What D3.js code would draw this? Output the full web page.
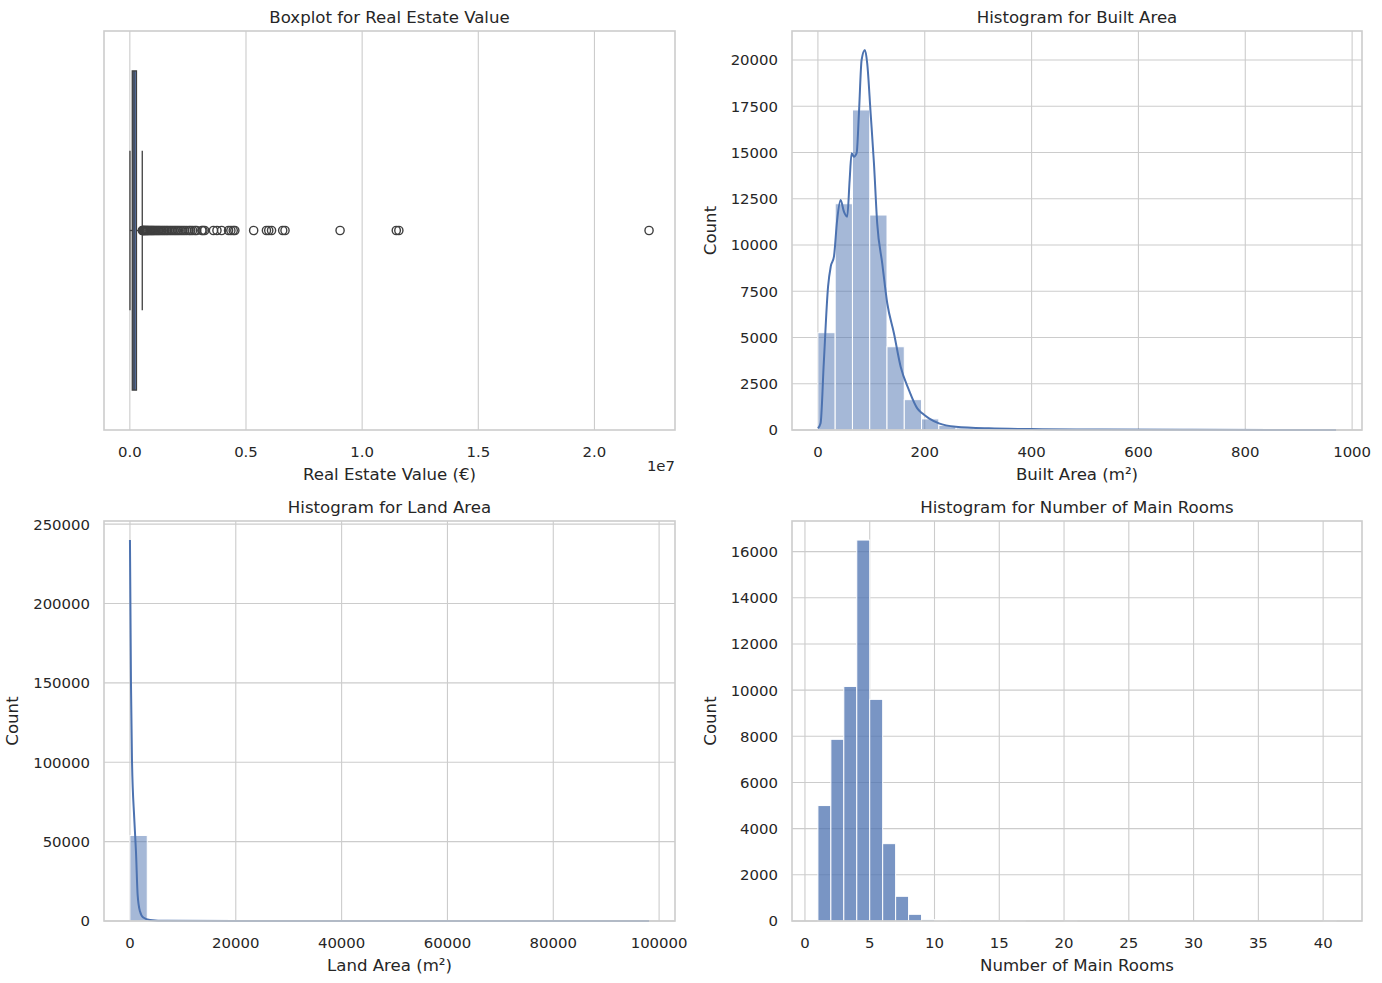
<!DOCTYPE html>
<html><head><meta charset="utf-8">
<script src="https://cdn.jsdelivr.net/npm/d3@7"></script>
<style>
body{margin:0;background:#fff}
svg text{font-family:"DejaVu Sans",sans-serif;fill:#262626}
</style>
</head><body>
<svg id="c" width="1382" height="983"></svg>
<script>
// ---------------- DATA ----------------
// Boxplot for Real Estate Value (€)
const valueStats = {min: 5000, q1: 105000, median: 180000, q3: 285000, whiskerHi: 535000, max: 22350000};
const valueOutliers = [
  540000, 560000, 580000, 600000, 630000, 660000, 690000, 720000, 750000, 780000,
  820000, 860000, 900000, 940000, 980000, 1020000, 1070000, 1120000, 1170000, 1220000,
  1270000, 1330000, 1390000, 1450000, 1510000, 1570000, 1630000, 1700000, 1770000, 1840000,
  1910000, 1980000, 2050000, 2120000, 2200000, 2280000, 2360000, 2450000, 2550000, 2620000,
  2700000, 2800000, 2870000, 3100000, 3150000, 3220000, 3600000, 3750000, 3950000, 4250000,
  4350000, 4450000, 4520000, 5330000, 5880000, 5980000, 6100000, 6580000, 6680000, 9050000,
  11470000, 11580000, 22350000
];
const valueTicks = [0, 5000000, 10000000, 15000000, 20000000];
const valueTickLabels = ["0.0", "0.5", "1.0", "1.5", "2.0"];

// Histogram for Built Area (m²) — 30 bins over [0, 970]
const builtRange = [0, 970];
const builtCounts = [5260, 12230, 17300, 11620, 4500, 1640, 600, 250, 110, 55,
                     32, 20, 14, 10, 8, 5, 5, 3, 3, 2, 2, 1, 1, 1, 1, 0, 1, 0, 0, 1];
const builtKde = [[0,90],[5,360],[11,3620],[19,7750],[24,8830],[30,9370],[36,11350],[42.5,12430],
  [48.7,11800],[54.9,11530],[59.4,13510],[63.1,14960],[67.4,14770],[72.5,14960],[76.8,17120],
  [81.8,20000],[88,20540],[92.3,19820],[98.7,17120],[104.9,14420],[111,11170],[120.4,9010],
  [129.8,6850],[142.3,5230],[154.9,3420],[170.4,2160],[186,1170],[195.3,900],[207.9,630],
  [226.6,360],[257.9,180],[320,90],[420,45],[526,25],[700,10],[970,2]];
const builtXTicks = [0, 200, 400, 600, 800, 1000];
const builtYTicks = [0, 2500, 5000, 7500, 10000, 12500, 15000, 17500, 20000];

// Histogram for Land Area (m²) — 30 bins over [0, 98100]
const landRange = [0, 98100];
const landCounts = [53900, 500, 110, 50, 30, 20, 10, 8, 5, 5, 3, 2, 2, 1, 1,
                    1, 1, 0, 1, 0, 0, 1, 0, 0, 0, 0, 0, 0, 0, 1];
const landKde = [[0,240000],[189,150700],[378,102300],[813,64600],[1134,43900],[1455,16300],
  [1890,6100],[2514,2200],[3780,700],[6930,150],[20000,20],[98100,0]];
const landXTicks = [0, 20000, 40000, 60000, 80000, 100000];
const landYTicks = [0, 50000, 100000, 150000, 200000, 250000];

// Histogram for Number of Main Rooms — 40 bins over [1, 41]
const roomsRange = [1, 41];
const roomsCounts = [5000, 7870, 10160, 16500, 9600, 3350, 1070, 290, 60, 25,
                     10, 5, 3, 2, 1, 1, 0, 0, 0, 1, 0, 0, 0, 0, 0, 0, 0, 0, 0, 0,
                     0, 0, 0, 0, 0, 0, 0, 0, 0, 1];
const roomsXTicks = [0, 5, 10, 15, 20, 25, 30, 35, 40];
const roomsYTicks = [0, 2000, 4000, 6000, 8000, 10000, 12000, 14000, 16000];

// ---------------- DRAW ----------------
const svg = d3.select("#c");
const BLUE = "#4c72b0", GRID = "#cccccc", DARK = "#3f3f3f";
const TICK_FS = 14.9, LAB_FS = 16.6;

const panels = {
  box:   {x0:104, x1:675, y0:31,  y1:430},
  built: {x0:792, x1:1362, y0:31, y1:430},
  land:  {x0:104, x1:675, y0:521, y1:921},
  rooms: {x0:792, x1:1362, y0:521, y1:921}
};

function padDomain(lo, hi){ const r = hi - lo; return [lo - 0.05*r, hi + 0.05*r]; }

function frame(p, title, xlabel, ylabel, xScale, xTicks, xFmt, yScale, yTicks){
  const g = svg.append("g");
  g.selectAll(".vg").data(xTicks).join("line")
    .attr("x1", d=>xScale(d)).attr("x2", d=>xScale(d))
    .attr("y1", p.y0).attr("y2", p.y1)
    .attr("stroke", GRID).attr("stroke-width", 1.1);
  if (yScale){
    g.selectAll(".hg").data(yTicks).join("line")
      .attr("x1", p.x0).attr("x2", p.x1)
      .attr("y1", d=>yScale(d)).attr("y2", d=>yScale(d))
      .attr("stroke", GRID).attr("stroke-width", 1.1);
    g.selectAll(".yt").data(yTicks).join("text")
      .attr("x", p.x0 - 14).attr("y", d=>yScale(d) + 5.4)
      .attr("text-anchor", "end").attr("font-size", TICK_FS)
      .text(d=>String(d));
  }
  g.selectAll(".xt").data(xTicks).join("text")
    .attr("x", d=>xScale(d)).attr("y", p.y1 + 26.5)
    .attr("text-anchor", "middle").attr("font-size", TICK_FS)
    .text((d,i)=>xFmt(d,i));
  g.append("text").attr("x", (p.x0+p.x1)/2).attr("y", p.y0 - 8)
    .attr("text-anchor", "middle").attr("font-size", LAB_FS).text(title);
  g.append("text").attr("x", (p.x0+p.x1)/2).attr("y", p.y1 + 49.5)
    .attr("text-anchor", "middle").attr("font-size", LAB_FS).text(xlabel);
  if (ylabel){
    g.append("text").attr("class", "ylab")
      .attr("transform", `translate(${p.x0 - 74},${(p.y0+p.y1)/2}) rotate(-90)`)
      .attr("text-anchor", "middle").attr("font-size", LAB_FS).text(ylabel);
  }
  return g;
}

function spines(p){
  svg.append("rect").attr("x", p.x0).attr("y", p.y0)
    .attr("width", p.x1 - p.x0).attr("height", p.y1 - p.y0)
    .attr("fill", "none").attr("stroke", GRID).attr("stroke-width", 1.6);
}

function hist(p, range, counts, kde, alpha, title, xlabel, xTicks, yTicks, ylabelX){
  const x = d3.scaleLinear().domain(padDomain(range[0], range[1])).range([p.x0, p.x1]);
  const ymaxData = Math.max(d3.max(counts), kde ? d3.max(kde, d=>d[1]) : 0);
  const y = d3.scaleLinear().domain([0, ymaxData*1.05]).range([p.y1, p.y0]);
  const g = frame(p, title, xlabel, "Count", x, xTicks, d=>String(d), y, yTicks);
  g.select(".ylab").attr("transform", `translate(${ylabelX},${(p.y0+p.y1)/2}) rotate(-90)`);
  const bw = (range[1] - range[0]) / counts.length;
  const bins = counts.map((c, i) => ({lo: range[0] + i*bw, hi: range[0] + (i+1)*bw, c}));
  svg.append("g").selectAll("rect").data(bins.filter(b=>b.c>0)).join("rect")
    .attr("x", b=>x(b.lo)).attr("width", b=>x(b.hi)-x(b.lo))
    .attr("y", b=>y(b.c)).attr("height", b=>y(0)-y(b.c))
    .attr("fill", BLUE).attr("fill-opacity", alpha)
    .attr("stroke", "#ffffff").attr("stroke-width", 1);
  if (kde){
    const line = d3.line().x(d=>x(d[0])).y(d=>y(d[1])).curve(d3.curveMonotoneX);
    svg.append("path").datum(kde).attr("d", line)
      .attr("fill", "none").attr("stroke", BLUE).attr("stroke-width", 2)
      .attr("stroke-linejoin", "round");
  }
  spines(p);
}

// Panel 1: boxplot
(function(){
  const p = panels.box;
  const x = d3.scaleLinear().domain(padDomain(valueStats.min, valueStats.max)).range([p.x0, p.x1]);
  const y = d3.scaleLinear().domain([-0.5, 0.5]).range([p.y0, p.y1]);
  frame(p, "Boxplot for Real Estate Value", "Real Estate Value (€)", null, x, valueTicks, (d,i)=>valueTickLabels[i], null, null);
  svg.append("text").attr("x", p.x1).attr("y", p.y1 + 41).attr("text-anchor", "end")
    .attr("font-size", TICK_FS).text("1e7");
  const g = svg.append("g").attr("stroke", DARK).attr("stroke-width", 1.3);
  g.append("line").attr("x1", x(valueStats.min)).attr("x2", x(valueStats.q1)).attr("y1", y(0)).attr("y2", y(0));
  g.append("line").attr("x1", x(valueStats.q3)).attr("x2", x(valueStats.whiskerHi)).attr("y1", y(0)).attr("y2", y(0));
  g.append("line").attr("x1", x(valueStats.min)).attr("x2", x(valueStats.min)).attr("y1", y(-0.2)).attr("y2", y(0.2));
  g.append("line").attr("x1", x(valueStats.whiskerHi)).attr("x2", x(valueStats.whiskerHi)).attr("y1", y(-0.2)).attr("y2", y(0.2));
  g.append("rect").attr("x", x(valueStats.q1)).attr("width", x(valueStats.q3)-x(valueStats.q1))
    .attr("y", y(-0.4)).attr("height", y(0.4)-y(-0.4)).attr("fill", "#5572a8");
  g.append("line").attr("x1", x(valueStats.median)).attr("x2", x(valueStats.median)).attr("y1", y(-0.4)).attr("y2", y(0.4));
  svg.append("g").selectAll("circle").data(valueOutliers).join("circle")
    .attr("cx", d=>x(d)).attr("cy", y(0)).attr("r", 4.1)
    .attr("fill", "none").attr("stroke", DARK).attr("stroke-width", 1.4);
  spines(p);
})();

hist(panels.built, builtRange, builtCounts, builtKde, 0.5, "Histogram for Built Area", "Built Area (m²)", builtXTicks, builtYTicks, 716);
hist(panels.land, landRange, landCounts, landKde, 0.5, "Histogram for Land Area", "Land Area (m²)", landXTicks, landYTicks, 18);
hist(panels.rooms, roomsRange, roomsCounts, null, 0.75, "Histogram for Number of Main Rooms", "Number of Main Rooms", roomsXTicks, roomsYTicks, 716);
</script>
</body></html>
